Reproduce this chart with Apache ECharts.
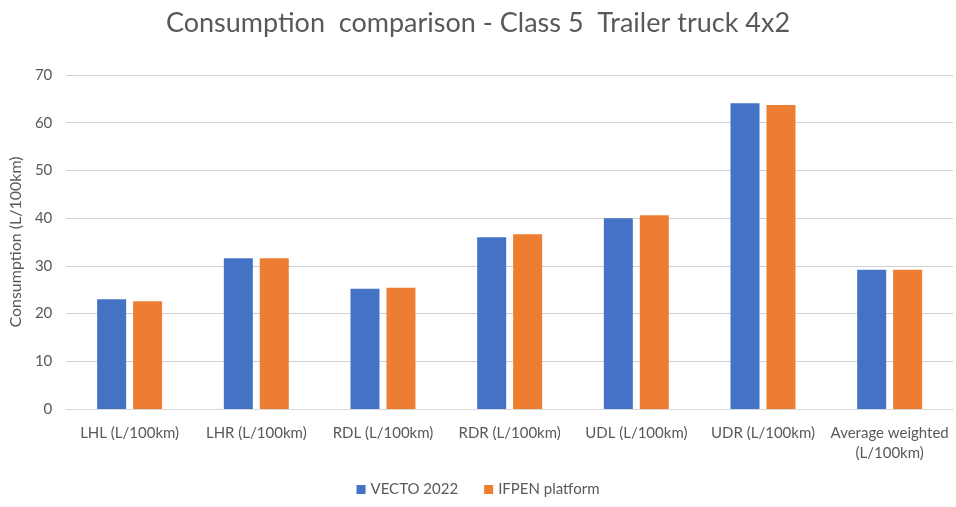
<!DOCTYPE html>
<html>
<head>
<meta charset="utf-8">
<script src="https://cdn.jsdelivr.net/npm/echarts@6/dist/echarts.min.js"></script>
<style>
  html, body { margin: 0; padding: 0; background: #fff; }
  #app { width: 956px; height: 507px; }
</style>
</head>
<body>
<div id="app"></div>
<script>
var categories = ['LHL (L/100km)', 'LHR (L/100km)', 'RDL (L/100km)', 'RDR (L/100km)',
    'UDL (L/100km)', 'UDR (L/100km)', 'Average weighted\n(L/100km)'];
var vecto = [23.0, 31.6, 25.2, 36.0, 40.0, 64.1, 29.2];
var ifpen = [22.6, 31.6, 25.4, 36.6, 40.6, 63.7, 29.2];

var myChart = echarts.init(document.getElementById('app'));
var txt = '#595959';
var option = {
    backgroundColor: '#fff',
    textStyle: { fontFamily: 'Lato' },
    title: {
        text: 'Consumption  comparison - Class 5  Trailer truck 4x2',
        left: 'center',
        top: 5,
        textStyle: { fontFamily: 'Lato', fontSize: 27, fontWeight: 'normal', color: txt }
    },
    legend: {
        bottom: 5,
        left: 'center',
        itemWidth: 9,
        itemHeight: 9,
        itemGap: 26,
        icon: 'rect',
        textStyle: { fontSize: 15, color: txt, fontFamily: 'Lato' },
        data: ['VECTO 2022', 'IFPEN platform']
    },
    grid: { left: 65, right: 3, top: 75, bottom: 98 },
    xAxis: {
        type: 'category',
        data: categories,
        axisTick: { show: false },
        axisLine: { lineStyle: { color: '#d9d9d9', width: 1 } },
        axisLabel: { color: txt, fontSize: 15, margin: 14, interval: 0, lineHeight: 20 }
    },
    yAxis: {
        type: 'value',
        min: 0,
        max: 70,
        interval: 10,
        name: 'Consumption (L/100km)',
        nameLocation: 'middle',
        nameGap: 40,
        nameTextStyle: { fontSize: 16, color: txt, fontFamily: 'Lato' },
        axisLine: { show: false },
        axisTick: { show: false },
        axisLabel: { color: txt, fontSize: 15, margin: 14 },
        splitLine: { lineStyle: { color: '#d0d0d0', width: 1 } }
    },
    series: [{
        name: 'VECTO 2022',
        type: 'bar',
        data: vecto,
        barWidth: 29,
        barGap: '24%',
        itemStyle: { color: '#4472C4' }
    }, {
        name: 'IFPEN platform',
        type: 'bar',
        data: ifpen,
        barWidth: 29,
        itemStyle: { color: '#ED7D31' }
    }]
};
myChart.setOption(option);
</script>
</body>
</html>
